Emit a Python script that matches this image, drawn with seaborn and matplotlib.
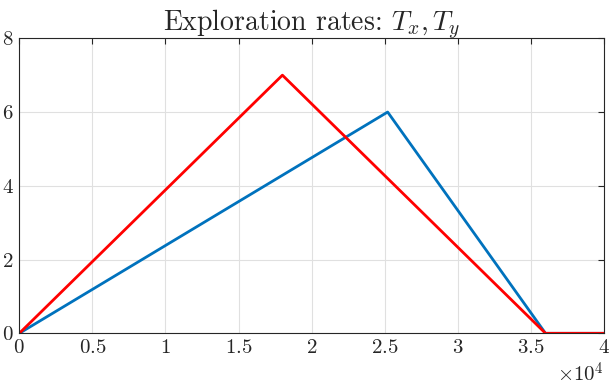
# Exploration rates T_x, T_y

import matplotlib
matplotlib.use('Agg')
import matplotlib.pyplot as plt
from matplotlib.ticker import FuncFormatter
import seaborn as sns
import pandas as pd

# data
tx_steps = [0, 25200, 36000, 40000]
tx_rate = [0, 6, 0, 0]
ty_steps = [0, 18000, 36000, 40000]
ty_rate = [0, 7, 0, 0]

x_ticks = [0, 5000, 10000, 15000, 20000, 25000, 30000, 35000, 40000]
y_ticks = [0, 2, 4, 6, 8]

df = pd.concat([
    pd.DataFrame({'step': tx_steps, 'rate': tx_rate, 'series': 'Tx'}),
    pd.DataFrame({'step': ty_steps, 'rate': ty_rate, 'series': 'Ty'}),
], ignore_index=True)

sns.set_style('white')
plt.rcParams['mathtext.fontset'] = 'cm'
plt.rcParams['font.family'] = ['cmr10', 'DejaVu Serif']
plt.rcParams['axes.formatter.use_mathtext'] = True

fig = plt.figure(figsize=(6.11, 3.86), dpi=100)
ax = fig.add_axes([0.0316, 0.1365, 0.9569, 0.7643])

sns.lineplot(data=df, x='step', y='rate', hue='series',
             palette={'Tx': '#0072BD', 'Ty': '#FF0000'},
             linewidth=2.0, legend=False, sort=False, ax=ax)

ax.set_xlim(0, 40000)
ax.set_ylim(0, 8)
ax.set_xticks(x_ticks)
ax.set_yticks(y_ticks)
ax.xaxis.set_major_formatter(FuncFormatter(lambda v, p: r'$%g$' % (v / 1e4)))
ax.yaxis.set_major_formatter(FuncFormatter(lambda v, p: r'$%g$' % v))
ax.tick_params(direction='in', length=4, width=0.8, color='#262626',
               labelsize=15, top=True, right=True, pad=4)
ax.grid(True, color='#e0e0e0', linewidth=0.8)
ax.set_axisbelow(True)
for s in ax.spines.values():
    s.set_color('#262626')
    s.set_linewidth(0.8)

ax.set_xlabel('')
ax.set_ylabel('')
ax.set_title(r'Exploration rates: $T_x, T_y$', fontsize=20, pad=5)
ax.text(1.0, -0.095, r'$\times 10^4$', transform=ax.transAxes,
        ha='right', va='top', fontsize=15)

fig.savefig('out.png', dpi=100)
